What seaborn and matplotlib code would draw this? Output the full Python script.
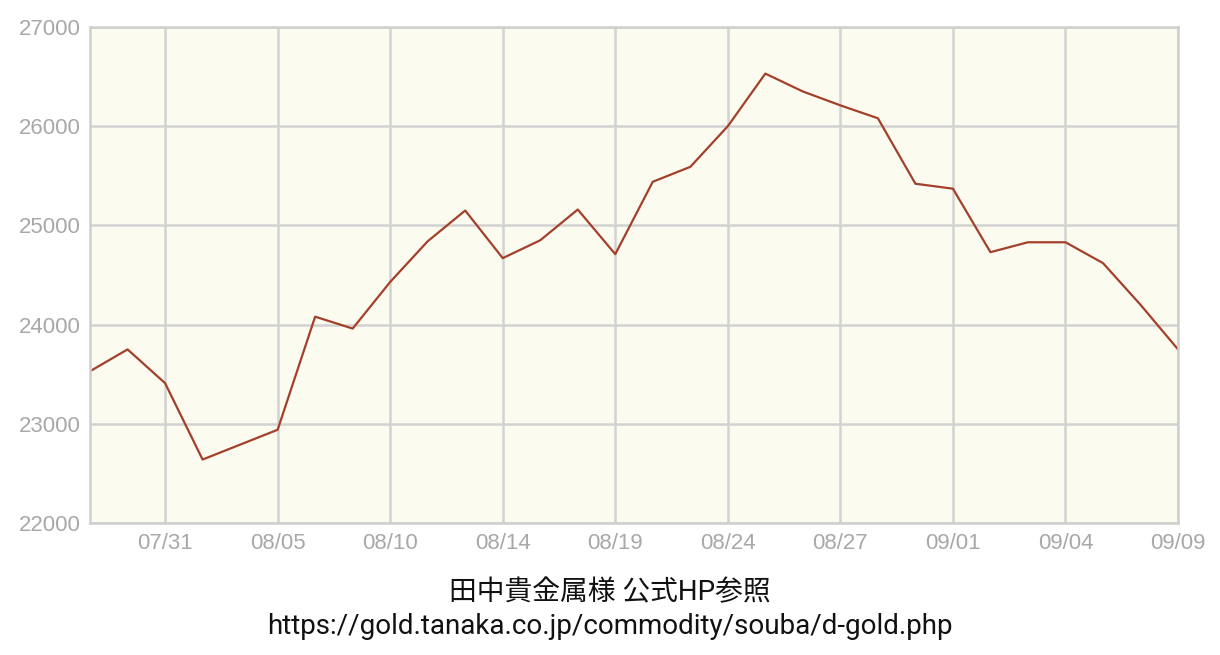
import pandas as pd
import seaborn as sns
import matplotlib.pyplot as plt

# 田中貴金属 金価格（円/g）
prices = [23530, 23750, 23410, 22640, 22790, 22940, 24080, 23960, 24430, 24840,
          25150, 24670, 24850, 25160, 24710, 25440, 25590, 26000, 26530, 26350,
          26210, 26080, 25420, 25370, 24730, 24830, 24830, 24620, 24200, 23750]
tick_pos = [2, 5, 8, 11, 14, 17, 20, 23, 26, 29]
tick_labels = ["07/31", "08/05", "08/10", "08/14", "08/19",
               "08/24", "08/27", "09/01", "09/04", "09/09"]
y_ticks = [22000, 23000, 24000, 25000, 26000, 27000]

df = pd.DataFrame({"idx": range(len(prices)), "price": prices})

sns.set_style("white")
plt.rcParams['font.family'] = ['Liberation Sans', 'DejaVu Sans']

fig = plt.figure(figsize=(12.2, 6.55), dpi=100)
ax = fig.add_axes([0.0738, 0.2015, 0.8918, 0.7573])
ax.set_facecolor("#fbfbef")

sns.lineplot(data=df, x="idx", y="price", ax=ax, color="#a3402c", linewidth=1.6)

ax.set_xlim(0, len(prices) - 1)
ax.set_ylim(22000, 27000)
ax.set_xticks(tick_pos)
ax.set_xticklabels(tick_labels)
ax.set_yticks(y_ticks)
ax.grid(True, color="#d2d2d2", linewidth=1.8)
ax.set_axisbelow(True)
for s in ax.spines.values():
    s.set_color("#cfcfcf")
    s.set_linewidth(1.8)
ax.tick_params(axis="both", length=0, colors="#a8a8a8", labelsize=16)
ax.tick_params(axis="y", pad=7)
ax.tick_params(axis="x", pad=7)
ax.set_xlabel("")
ax.set_ylabel("")

fig.text(0.5, 1 - 593 / 655, "田中貴金属様 公式HP参照", ha="center", va="center",
         fontsize=20, color="#111111", family=['Roboto', 'Noto Sans CJK JP'])
fig.text(0.5, 1 - 627 / 655, "https://gold.tanaka.co.jp/commodity/souba/d-gold.php",
         ha="center", va="center", fontsize=20, color="#111111",
         family=['Roboto', 'Noto Sans CJK JP'])

fig.savefig("out.png", dpi=100, facecolor="white")
